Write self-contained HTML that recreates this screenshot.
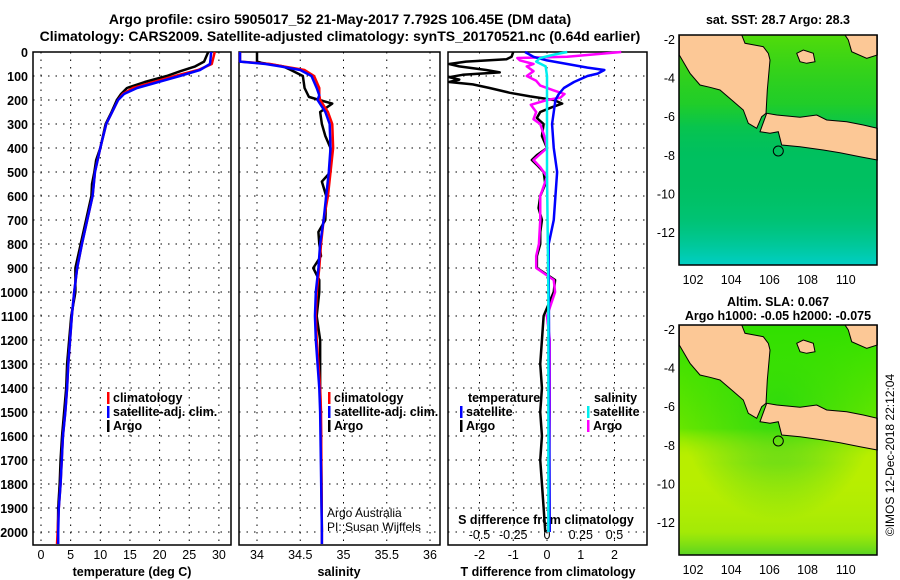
<!DOCTYPE html>
<html><head><meta charset="utf-8"><style>
body{margin:0;background:#fff;}
svg{display:block;font-family:"Liberation Sans",Arial,sans-serif;}
.t{font-weight:bold;font-size:14px;}
.k{font-weight:bold;font-size:12.5px;}
</style></head><body>
<svg id="s" width="900" height="580" viewBox="0 0 900 580">
<rect width="900" height="580" fill="#fff"/>
<text class="t" x="340" y="24" text-anchor="middle">Argo profile: csiro 5905017_52 21-May-2017 7.792S 106.45E (DM data)</text>
<text class="t" x="340" y="41" text-anchor="middle">Climatology: CARS2009. Satellite-adjusted climatology: synTS_20170521.nc (0.64d earlier)</text>
<g id="g"></g>
<g id="m1">
<text class="k" x="778" y="24" text-anchor="middle">sat. SST: 28.7 Argo: 28.3</text>
</g>
<g id="m2">
<text class="k" x="778" y="306" text-anchor="middle">Altim. SLA: 0.067</text>
<text class="k" x="778" y="320" text-anchor="middle">Argo h1000: -0.05 h2000: -0.075</text>
</g>
<text x="894" y="455" font-size="12" transform="rotate(-90 894 455)" text-anchor="middle">©IMOS 12-Dec-2018 22:12:04</text>
</svg>
<script>
const depthT = [0,50,75,100,125,150,175,200,250,300,400,500,600,700,800,900,1000,1100,1200,1300,1400,1500,1600,1700,1800,1900,2000,2050];
const tempClim = [29.3,28.8,26.5,22.6,19.0,15.5,13.8,13.0,12.0,11.0,10.0,9.1,8.7,7.8,6.9,6.1,5.6,5.2,4.9,4.6,4.4,4.1,3.7,3.5,3.3,3.0,2.8,2.7];
const tempSat  = [28.7,28.5,26.8,23.4,19.8,16.2,14.0,13.0,12.0,11.0,10.0,9.1,8.7,7.8,6.9,6.1,5.6,5.2,4.9,4.6,4.4,4.1,3.7,3.5,3.3,3.0,2.9,2.9];
const depthArgoT = [0,40,60,80,100,125,150,175,200,250,300,400,450,500,550,600,700,800,900,1000,1100,1200,1300,1400,1500,1600,1700,1800,1900,2000];
const tempArgo = [28.2,27.5,26.0,23.5,21.2,17.5,14.5,13.5,12.8,11.9,10.9,10.0,9.3,9.0,8.6,8.5,7.6,6.7,5.8,5.8,5.1,4.75,4.4,4.25,3.9,3.55,3.3,3.15,2.9,2.85];
const depthS = [0,40,50,60,75,100,150,180,200,250,300,400,500,600,700,800,900,1000,1100,1200,1300,1400,1500,2000,2050];
const salClim = [33.8,33.8,34.15,34.3,34.55,34.66,34.72,34.72,34.73,34.82,34.87,34.88,34.85,34.82,34.77,34.74,34.72,34.69,34.68,34.69,34.71,34.73,34.74,34.75,34.75];
const salSat  = [33.8,33.8,34.1,34.27,34.5,34.63,34.69,34.72,34.70,34.79,34.84,34.85,34.83,34.80,34.77,34.73,34.71,34.68,34.67,34.68,34.70,34.72,34.73,34.75,34.75];
const depthArgoS = [0,40,45,60,73,100,150,187,200,215,250,300,350,400,500,540,600,700,750,800,850,900,950,1000,1100,1200,1300,1400,1600,2000];
const salArgo = [34.0,34.0,34.05,34.3,34.38,34.53,34.55,34.6,34.72,34.87,34.73,34.75,34.79,34.85,34.85,34.75,34.80,34.79,34.71,34.72,34.74,34.65,34.72,34.72,34.69,34.73,34.73,34.73,34.74,34.75];
const depthD = [0,20,30,40,50,60,75,85,95,105,115,125,135,150,170,185,200,215,230,250,275,300,350,400,430,450,470,500,550,600,650,700,750,800,850,900,950,1000,1050,1100,1200,1300,1400,1500,1600,1700,1800,1900,2000];
const tDiffArgo = [-1.0,-1.05,-1.2,-2.4,-2.9,-2.6,-1.8,-1.4,-2.5,-2.9,-2.6,-2.9,-2.2,-1.7,-1.1,-0.5,0.2,0.45,0.15,-0.2,-0.3,-0.1,-0.15,0,-0.3,-0.45,-0.3,-0.1,-0.05,-0.2,-0.25,-0.15,-0.2,-0.2,-0.3,-0.3,0.24,0.2,0.05,-0.1,-0.15,-0.2,-0.15,-0.2,-0.15,-0.2,-0.15,-0.1,-0.05];
const depthTS = [0,20,35,50,65,75,90,100,125,150,175,200,300,400,500,600,700,800,900,1200,1600,2000];
const tDiffSat = [-0.65,-0.4,0.0,0.6,1.2,1.7,1.5,1.2,0.8,0.5,0.35,0.25,0.15,0.2,0.3,0.25,0.2,0.05,0.05,0.06,0.07,0.08];
const depthSD = [0,10,20,25,35,50,60,80,100,120,140,160,175,190,200,220,250,280,300,350,400,450,480,520,600,700,800,850,900,950,1000,1100,1200,1500,2000];
const sDiffArgo = [0.55,0.35,0.15,-0.22,-0.2,-0.1,-0.15,-0.1,-0.15,-0.08,-0.05,0.05,0.13,0.1,0.0,-0.12,-0.08,-0.1,-0.05,-0.02,0,-0.1,-0.05,0,-0.05,-0.05,-0.06,-0.08,-0.08,0.05,0.06,0,0.02,0.02,0.01];
const depthSS = [0,10,25,40,60,100,500,1000,2000];
const sDiffSat = [0.15,0.06,-0.05,-0.08,-0.01,0,0,0.01,0.01];
const depthTicks = [0,100,200,300,400,500,600,700,800,900,1000,1100,1200,1300,1400,1500,1600,1700,1800,1900,2000];
const tempTicks = [0,5,10,15,20,25,30];
const salTicks = [34,34.5,35,35.5,36];
const salTickLabels = ["34","34.5","35","35.5","36"];
const tdTicks = [-2,-1,0,1,2];
const sdTicks = [-0.5,-0.25,0,0.25,0.5];
const sdTickLabels = ["-0.5","-0.25","0","0.25","0.5"];
const lonTicks = [102,104,106,108,110];
const latTicks = [-2,-4,-6,-8,-10,-12];

const NS="http://www.w3.org/2000/svg";
const G=document.getElementById('g');
function el(tag,attrs,parent){const e=document.createElementNS(NS,tag);for(const k in attrs)e.setAttribute(k,attrs[k]);(parent||G).appendChild(e);return e;}
const yTop=52, yBot=545;
const y=d=>yTop+d*0.24;
const P1={l:33,r:231,x:v=>41+v*5.93};
const P2={l:239,r:440,x:v=>257+(v-34)*86.5};
const P3={l:448,r:647,x:v=>547+v*33.75};
const sx=v=>547+v*135;

function panel(P,name,xt,xfun){
  const f=el('rect',{x:P.l,y:yTop,width:P.r-P.l,height:yBot-yTop,fill:'none',stroke:'#000','stroke-width':1.5});
  
  
  depthTicks.forEach(d=>{const l=el('line',{x1:P.l,x2:P.r,y1:y(d),y2:y(d),stroke:'#000','stroke-dasharray':'1.5,6'});
    
    });
  xt.forEach(v=>{const l=el('line',{x1:xfun(v),x2:xfun(v),y1:yTop,y2:yBot,stroke:'#000','stroke-dasharray':'1.5,6'});
    
    });
}
panel(P1,'temp-panel',tempTicks,P1.x);
panel(P2,'sal-panel',salTicks,P2.x);
panel(P3,'diff-panel',tdTicks,P3.x);

depthTicks.forEach(d=>{const t=el('text',{x:28,y:y(d)+5,'text-anchor':'end',class:'k'});t.textContent=d;
  
  });
tempTicks.forEach(v=>{const t=el('text',{x:P1.x(v),y:559,'text-anchor':'middle','font-size':12.5});t.textContent=v;
  
  });
salTicks.forEach((v,i)=>{const t=el('text',{x:P2.x(v),y:559,'text-anchor':'middle','font-size':12.5});t.textContent=salTickLabels[i];
  
  });
tdTicks.forEach(v=>{const t=el('text',{x:P3.x(v),y:559,'text-anchor':'middle','font-size':12.5});t.textContent=v;
  
  });
sdTicks.forEach((v,i)=>{const t=el('text',{x:sx(v),y:539,'text-anchor':'middle','font-size':12.5});t.textContent=sdTickLabels[i];
  
  });
[["temperature (deg C)",132,'temp-axis-title'],["salinity",339,'sal-axis-title'],["T difference from climatology",548,'tdiff-axis-title']].forEach(a=>{
  const t=el('text',{x:a[1],y:576,'text-anchor':'middle',class:'k'});t.textContent=a[0];
  
  });
{const t=el('text',{x:546,y:524,'text-anchor':'middle',class:'k'});t.textContent="S difference from climatology";
  
  }

function line(depths,vals,xf,color,name,P,w){
  const pts=depths.map((d,i)=>[Math.max(P.l+1,Math.min(P.r-1,xf(vals[i]))),y(d)]);
  const p=el('polyline',{points:pts.map(q=>q.join(',')).join(' '),fill:'none',stroke:color,'stroke-width':w||2.5,'stroke-linejoin':'round'});
  
  
}
line(depthArgoT,tempArgo,P1.x,'#000','temp-argo-line',P1);
line(depthT,tempClim,P1.x,'#f00','temp-clim-line',P1);
line(depthT,tempSat,P1.x,'#00f','temp-sat-line',P1);
line(depthArgoS,salArgo,P2.x,'#000','sal-argo-line',P2);
line(depthS,salClim,P2.x,'#f00','sal-clim-line',P2);
line(depthS,salSat,P2.x,'#00f','sal-sat-line',P2);
line(depthD,tDiffArgo,P3.x,'#000','tdiff-argo-line',P3);
line(depthSD,sDiffArgo,sx,'#f0f','sdiff-argo-line',P3);
line(depthTS,tDiffSat,P3.x,'#00f','tdiff-sat-line',P3);
line(depthSS,sDiffSat,sx,'#0ee','sdiff-sat-line',P3);

function leg(x,yy,color,label,name){
  const r=el('rect',{x:x,y:yy-10,width:2.5,height:12,fill:color});
  
  
  const t=el('text',{x:x+6,y:yy,class:'k'});t.textContent=label;
  
  
}
leg(107,402,'#f00','climatology','legend-climatology');
leg(107,416,'#00f','satellite-adj. clim.','legend-satellite');
leg(107,430,'#000','Argo','legend-argo');
leg(328,402,'#f00','climatology','legend-sal-climatology');
leg(328,416,'#00f','satellite-adj. clim.','legend-sal-satellite');
leg(328,430,'#000','Argo','legend-sal-argo');
{const t=el('text',{x:468,y:402,class:'k'});t.textContent='temperature';}
{const t=el('text',{x:594,y:402,class:'k'});t.textContent='salinity';}
leg(460,416,'#00f','satellite','legend-t-satellite');
leg(460,430,'#000','Argo','legend-t-argo');
leg(587,416,'#0ee','satellite','legend-s-satellite');
leg(587,430,'#f0f','Argo','legend-s-argo');
{const t=el('text',{x:327,y:517,'font-size':12});t.textContent='Argo Australia';}
{const t=el('text',{x:327,y:531,'font-size':12});t.textContent='PI: Susan Wijffels';}

const sumatra=[[58,105],[245,105],[255,130],[310,140],[325,160],[330,180],[322,270],[318,340],[305,350],[290,385],[265,370],[250,330],[215,300],[180,270],[150,262],[120,255],[90,220],[58,165]];
const borneo=[[555,105],[652,105],[652,165],[620,175],[575,155],[565,120]];
const bangka=[[410,160],[430,150],[460,160],[465,185],[440,190],[420,185]];
const java=[[300,395],[330,400],[355,395],[365,435],[420,440],[490,450],[540,458],[600,470],[652,480],[652,385],[610,375],[560,365],[500,360],[470,345],[420,352],[350,345],[320,340]];
function mp(pts,dy){return pts.map(p=>(p[0]/3+660).toFixed(1)+','+(p[1]/3+dy).toFixed(1)).join(' ');}
function drawMap(gid,dy,base,grad,name){
  const g=document.getElementById(gid);
  const defs=el('defs',{},g);
  defs.innerHTML=grad;
  const bg=el('rect',{x:679,y:35+dy,width:198,height:230,fill:base},g);
  
  
  const ov=el('rect',{x:679,y:35+dy,width:198,height:230,fill:'url(#'+gid+'a)'},g);
  
  
  const ov2=el('rect',{x:679,y:35+dy,width:198,height:230,fill:'url(#'+gid+'b)'},g);
  
  
  [sumatra,borneo,bangka,java].forEach(s=>{const p=el('polygon',{points:mp(s,dy),fill:'#fcc896',stroke:'#000','stroke-width':1},g);
    
    });
  const c=el('circle',{cx:778.3,cy:151+dy,r:5,fill:'none',stroke:'#000','stroke-width':1},g);
  
  
  const fr=el('rect',{x:679,y:35+dy,width:198,height:230,fill:'none',stroke:'#000','stroke-width':1.5},g);
  
  
  lonTicks.forEach(v=>{const xx=693+(v-102)*19.1;
    const t=el('text',{x:xx,y:284+dy,'text-anchor':'middle','font-size':12.5},g);t.textContent=v;
    
    });
  latTicks.forEach(v=>{const yy=39+(-2-v)*19.3+dy;
    const t=el('text',{x:675,y:yy+5,'text-anchor':'end','font-size':12.5},g);t.textContent=v;
    
    });
}
drawMap('m1',0,'#00c060',
 '<linearGradient id="m1a" x1="0" y1="0" x2="0" y2="1"><stop offset="0.3" stop-color="#20d020" stop-opacity="0.7"/><stop offset="0.55" stop-color="#00c050" stop-opacity="0"/><stop offset="0.8" stop-color="#00c8a0" stop-opacity="0.3"/><stop offset="1" stop-color="#00d0d0" stop-opacity="0.9"/></linearGradient><linearGradient id="m1b" x1="0" y1="0" x2="0" y2="1"><stop offset="0" stop-color="#60e000" stop-opacity="0.8"/><stop offset="0.4" stop-color="#40d000" stop-opacity="0"/></linearGradient>','sst-map');
drawMap('m2',290,'#b8ee00',
 '<radialGradient id="m2a" cx="0.5" cy="0.35" r="0.5"><stop offset="0" stop-color="#10c830" stop-opacity="0.8"/><stop offset="1" stop-color="#10c830" stop-opacity="0"/></radialGradient><linearGradient id="m2b" x1="0" y1="0" x2="0" y2="1"><stop offset="0" stop-color="#30e000"/><stop offset="0.45" stop-color="#30e000" stop-opacity="0.6"/><stop offset="0.6" stop-color="#d0f000" stop-opacity="0"/><stop offset="0.9" stop-color="#50d820" stop-opacity="0.2"/><stop offset="1" stop-color="#30c830" stop-opacity="0.7"/></linearGradient>','sla-map');
</script>
</body></html>
